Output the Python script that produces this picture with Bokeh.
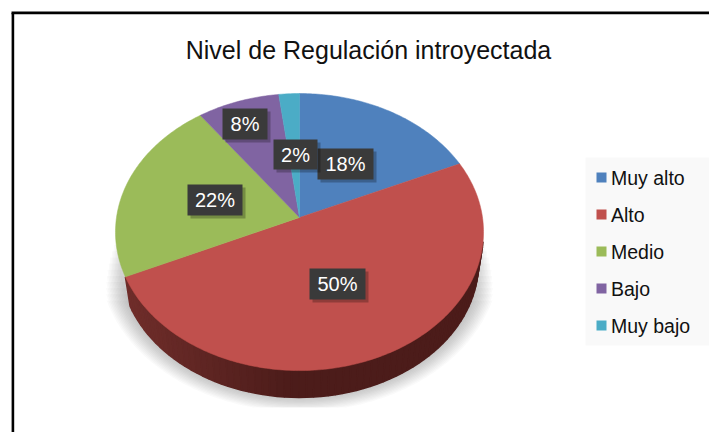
import numpy as np
from bokeh.plotting import figure
from bokeh.models import Range1d
from bokeh.embed import file_html
from bokeh.resources import INLINE
from bokeh.core.properties import value

categories = ["Muy alto", "Alto", "Medio", "Bajo", "Muy bajo"]
shares = [18.3, 49.9, 21.8, 8.0, 2.0]
labels = ["18%", "50%", "22%", "8%", "2%"]
colors = ["#4f81bd", "#c0504d", "#9bbb59", "#8064a2", "#4bacc6"]
title_text = "Nivel de Regulación introyectada"

CX, CY, R, K, P = 299, 217, 183, 137, 0.105
SIDE_SCALE, SIDE_DY = 0.973, 31

p = figure(width=709, height=432, x_range=Range1d(0, 709), y_range=Range1d(432, 0),
           toolbar_location=None, output_backend="svg", min_border=0)
# The reference's frame runs to the window's edges, so the figure sits at the
# window's corner instead of inside the page's 8px margin.
p.styles = {"position": "absolute", "left": "0px", "top": "0px"}
p.axis.visible = False
p.grid.visible = False
p.outline_line_color = None
p.background_fill_color = "white"
p.border_fill_color = "white"


def rim(theta, scale=1.0, dy=0.0):
    X, Y = np.sin(theta), np.cos(theta)
    w = 1 + P * Y
    return CX + scale * R * X / w, CY - scale * K * Y / w + dy


t = np.linspace(0, 2 * np.pi, 361)

# soft shadow under the pie: outer layers start lower, so it fades upward and outward
layers = 14
for s, top in zip(np.linspace(1.085, 0.98, layers), np.linspace(300, 220, layers)):
    x, y = rim(t, s, 28)
    x = np.clip(x, 103, 495)
    y = np.clip(y, top, 407)
    p.patch(x, y, fill_color="#404040", fill_alpha=0.028, line_color=None)

# side of the pie, lit from the left
red_end = sum(shares[:2]) / 100 * 2 * np.pi
th = np.linspace(red_end, np.radians(100), 70)
for a, b in zip(th[:-1], th[1:]):
    x0, y0 = rim(a)
    x1, y1 = rim(b)
    x2, y2 = rim(b, SIDE_SCALE, SIDE_DY)
    x3, y3 = rim(a, SIDE_SCALE, SIDE_DY)
    f = np.clip((x0 - 124) / 165, 0, 1)
    c = "#%02x%02x%02x" % tuple(int(u + (v - u) * f) for u, v in zip((0x70, 0x2e, 0x2b), (0x4c, 0x1c, 0x1a)))
    p.patch([x0, x1, x2, x3], [y0, y1, y2, y3], fill_color=c, line_color=c, line_width=1.5)

# top of the pie
start = 0.0
for share, c in zip(shares, colors):
    end = start + share / 100 * 2 * np.pi
    a = np.linspace(start, end, max(int(share * 4), 6))
    x, y = rim(a)
    p.patch(np.r_[CX, x], np.r_[CY, y], fill_color=c, line_color=c, line_width=0.5)
    start = end

# data labels
lab_pos = {"22%": (214.5, 199.5, 55, 31), "50%": (337, 283.5, 56, 31), "8%": (244.5, 123.5, 45, 31),
           "18%": (345, 163.5, 56, 31), "2%": (295, 154, 44, 30)}
for name in ["22%", "50%", "8%", "18%", "2%"]:
    lx, ly, lw, lh = lab_pos[name]
    p.rect([lx + 3], [ly + 3], lw, lh, fill_color="#000000", fill_alpha=0.25, line_color=None)
    p.rect([lx], [ly], lw, lh, fill_color="#3a3a3a", line_color=None)
    p.text([lx], [ly], text=[name], text_color="white", text_align="center", text_baseline="middle",
           text_font=value("Liberation Sans"), text_font_size="20px")

# legend
p.quad(left=[585], right=[709], top=[157], bottom=[345], fill_color="#f9f9f9", line_color=None)
for i, (cat, c) in enumerate(zip(categories, colors)):
    y = 177 + i * 37
    p.rect([601], [y], 10, 10, fill_color=c, line_color=None)
    p.text([610.5], [y], text=[cat], text_color="#111111", text_baseline="middle",
           text_font=value("Liberation Sans"), text_font_size="19.5px")

# title
p.text([368], [49], text=[title_text], text_color="#111111", text_align="center", text_baseline="middle",
       text_font=value("Liberation Sans"), text_font_size="25px")

# frame
p.line([12.4, 12.4], [432, 12.4], line_color="black", line_width=2.6)
p.line([11, 709], [12.4, 12.4], line_color="black", line_width=2.6)

open("out.html", "w").write(file_html(p, INLINE))
